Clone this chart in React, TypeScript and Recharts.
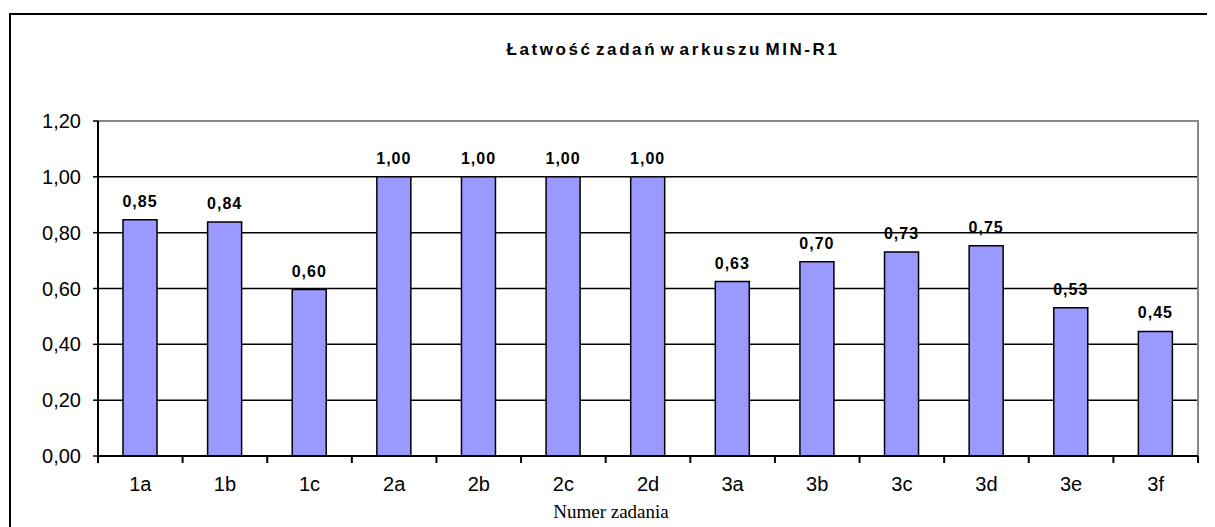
import { BarChart, Bar, XAxis, YAxis, CartesianGrid, LabelList, ReferenceArea } from "recharts";

const tasks = ["1a", "1b", "1c", "2a", "2b", "2c", "2d", "3a", "3b", "3c", "3d", "3e", "3f"];
const easiness = [0.846, 0.838, 0.596, 1.0, 1.0, 1.0, 1.0, 0.625, 0.696, 0.731, 0.753, 0.531, 0.446];
const yTicks = [0, 0.2, 0.4, 0.6, 0.8, 1.0, 1.2];

const data = tasks.map((t, i) => ({ name: t, value: easiness[i] }));

const W = 1207;
const H = 519;
const PLOT_LEFT = 90;
const PLOT_W = 1100;
const BAND = PLOT_W / tasks.length;
const FONT = '"Liberation Sans", Arial, sans-serif';

const fmt = (v: number) => v.toFixed(2).replace(".", ",");

function CategoryTick(props: any) {
  const { x, y, payload, index } = props;
  const last = index === tasks.length - 1;
  return (
    <g>
      <line x1={x - BAND / 2} x2={x - BAND / 2} y1={y} y2={y + 7} stroke="#000" strokeWidth={2} />
      {last && <line x1={x + BAND / 2} x2={x + BAND / 2} y1={y} y2={y + 7} stroke="#000" strokeWidth={2} />}
      <text x={x} y={y + 35} textAnchor="middle" fontSize={20} fontFamily={FONT} fill="#000">
        {payload.value}
      </text>
    </g>
  );
}

export default function App() {
  return (
    <div style={{ position: "relative", width: W, height: H, overflow: "hidden" }}>
      <div
        style={{
          position: "absolute",
          left: 1,
          top: 5,
          width: 1400,
          height: 800,
          borderTop: "2px solid #000",
          borderLeft: "2px solid #000",
        }}
      />
      <div
        style={{
          position: "absolute",
          left: 0,
          width: 1330,
          top: 32,
          textAlign: "center",
          fontFamily: FONT,
          fontWeight: "bold",
          fontSize: 17,
          letterSpacing: 2.6,
          wordSpacing: -4,
        }}
      >
        Łatwość zadań w arkuszu MIN-R1
      </div>
      <div
        style={{
          position: "absolute",
          left: 0,
          width: 1206,
          top: 493,
          textAlign: "center",
          fontFamily: '"Liberation Serif", "Times New Roman", serif',
          fontSize: 19,
        }}
      >
        Numer zadania
      </div>
      <div style={{ position: "absolute", left: 0, top: 0 }}>
        <BarChart
          width={W}
          height={H}
          data={data}
          margin={{ top: 113, right: W - PLOT_LEFT - PLOT_W, left: 0, bottom: 41 }}
          barSize={34}
        >
          <CartesianGrid
            vertical={false}
            horizontalValues={[0.2, 0.4, 0.6, 0.8, 1.0]}
            stroke="#000"
            strokeWidth={1.5}
          />
          <ReferenceArea y1={0} y2={1.2} fill="none" stroke="#888" strokeWidth={2} />
          <XAxis
            dataKey="name"
            height={30}
            tickLine={false}
            tickSize={0}
            tickMargin={0}
            axisLine={{ stroke: "#000", strokeWidth: 2 }}
            tick={<CategoryTick />}
            interval={0}
          />
          <YAxis
            width={PLOT_LEFT}
            domain={[0, 1.2]}
            ticks={yTicks}
            interval={0}
            tickFormatter={fmt}
            tickSize={5}
            tickMargin={12}
            axisLine={{ stroke: "#000", strokeWidth: 2 }}
            tickLine={{ stroke: "#000", strokeWidth: 1.5 }}
            tick={{ fill: "#000", fontSize: 20, fontFamily: FONT }}
          />
          <Bar dataKey="value" fill="#9999FF" stroke="#000" strokeWidth={1.5} isAnimationActive={false}>
            <LabelList
              dataKey="value"
              position="top"
              offset={13}
              formatter={(v: any) => fmt(Number(v))}
              style={{ fill: "#000", fontSize: 16, fontWeight: "bold", fontFamily: FONT, letterSpacing: 1 }}
            />
          </Bar>
        </BarChart>
      </div>
    </div>
  );
}
